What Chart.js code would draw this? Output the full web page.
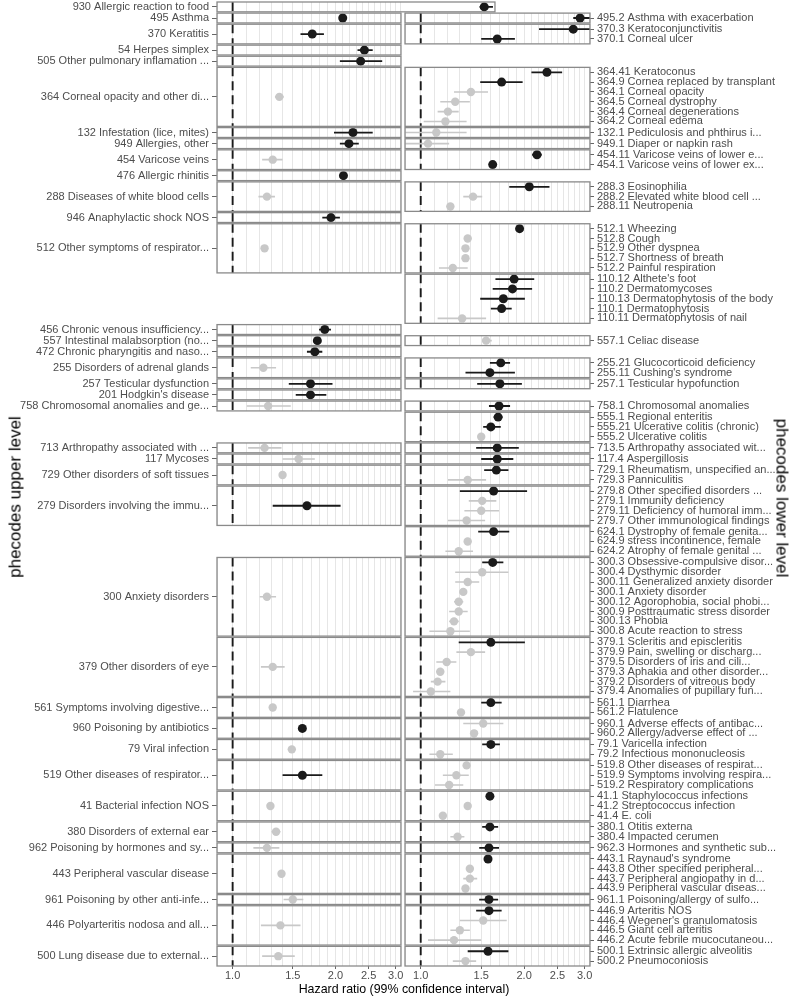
<!DOCTYPE html>
<html>
<head>
<meta charset="utf-8">
<script src="https://cdn.jsdelivr.net/npm/chart.js@4.4.1/dist/chart.umd.min.js"></script>
<style>
    html, body { margin: 0; padding: 0; background: #fff; }
    #wrap { position: relative; width: 797px; height: 996px; font-family: "Liberation Sans", Arial, sans-serif; }
    #forest { position: absolute; left: 0; top: 0; }
    .ttl { position: absolute; color: #000; white-space: nowrap; line-height: 1; }
    #ttlUpper { left: 15px; top: 497px; font-size: 17px; transform: translate(-50%, -50%) rotate(-90deg); }
    #ttlLower { left: 782px; top: 498px; font-size: 17px; transform: translate(-50%, -50%) rotate(90deg); }
    #ttlX { left: 404px; top: 989px; font-size: 12.4px; transform: translate(-50%, -50%); }
</style>
</head>
<body>
<div id="wrap">
    <canvas id="forest" width="797" height="996"></canvas>
    <div class="ttl" id="ttlUpper">phecodes upper level</div>
    <div class="ttl" id="ttlLower">phecodes lower level</div>
    <div class="ttl" id="ttlX">Hazard ratio (99% confidence interval)</div>
</div>
<script>
// upper level phecodes (one facet row each, null = no upper-level estimate)
const upperCodes = ["930", "495", "370", "54", "505", "364", "132", "949", "454", "476", "288", "946", "512", "110",
    "456", "557", "472", "255", "257", "201", "758", "555", "713", "117", "729", "279", "624", "300", "379", "561",
    "960", "79", "519", "41", "380", "962", "443", "961", "446", "500"];
const upperLabels = ["930 Allergic reaction to food", "495 Asthma", "370 Keratitis", "54 Herpes simplex",
    "505 Other pulmonary inflamation ...", "364 Corneal opacity and other di...", "132 Infestation (lice, mites)",
    "949 Allergies, other", "454 Varicose veins", "476 Allergic rhinitis", "288 Diseases of white blood cells",
    "946 Anaphylactic shock NOS", "512 Other symptoms of respirator...", null, "456 Chronic venous insufficiency...",
    "557 Intestinal malabsorption (no...", "472 Chronic pharyngitis and naso...", "255 Disorders of adrenal glands",
    "257 Testicular dysfunction", "201 Hodgkin's disease", "758 Chromosomal anomalies and ge...", null,
    "713 Arthropathy associated with ...", "117 Mycoses", "729 Other disorders of soft tissues",
    "279 Disorders involving the immu...", null, "300 Anxiety disorders", "379 Other disorders of eye",
    "561 Symptoms involving digestive...", "960 Poisoning by antibiotics", "79 Viral infection",
    "519 Other diseases of respirator...", "41 Bacterial infection NOS", "380 Disorders of external ear",
    "962 Poisoning by hormones and sy...", "443 Peripheral vascular disease", "961 Poisoning by other anti-infe...",
    "446 Polyarteritis nodosa and all...", "500 Lung disease due to external..."];
const upperHR = [5.45, 2.10, 1.71, 2.43, 2.37, 1.37, 2.25, 2.19, 1.31, 2.11, 1.26, 1.94, 1.24, null, 1.86, 1.77, 1.74,
    1.23, 1.69, 1.69, 1.27, null, 1.24, 1.56, 1.40, 1.65, null, 1.26, 1.31, 1.31, 1.60, 1.49, 1.60, 1.29, 1.34, 1.26,
    1.39, 1.50, 1.38, 1.36];
const upperLo = [5.28, 2.06, 1.58, 2.32, 2.06, 1.33, 1.98, 2.06, 1.22, 2.08, 1.19, 1.83, 1.22, null, 1.79, 1.73, 1.65,
    1.13, 1.46, 1.53, 1.10, null, 1.11, 1.40, 1.37, 1.31, null, 1.20, 1.21, 1.28, 1.57, 1.46, 1.40, 1.26, 1.30, 1.15,
    1.36, 1.41, 1.21, 1.22];
const upperHi = [5.78, 2.14, 1.85, 2.57, 2.74, 1.41, 2.57, 2.34, 1.40, 2.14, 1.33, 2.06, 1.26, null, 1.94, 1.81, 1.83,
    1.34, 1.96, 1.88, 1.48, null, 1.39, 1.74, 1.43, 2.07, null, 1.34, 1.42, 1.34, 1.63, 1.52, 1.83, 1.32, 1.38, 1.37,
    1.42, 1.61, 1.58, 1.52];
const upperSig = [1, 1, 1, 1, 1, 0, 1, 1, 0, 1, 0, 1, 0, null, 1, 1, 1, 0, 1, 1, 0, null, 0, 0, 0, 1, null, 0, 0, 0,
    1, 0, 1, 0, 0, 0, 0, 0, 0, 0];

// lower level phecodes
const lowerLabels = ["495.2 Asthma with exacerbation",
    "370.3 Keratoconjunctivitis", "370.1 Corneal ulcer",
    "364.41 Keratoconus", "364.9 Cornea replaced by transplant", "364.1 Corneal opacity", "364.5 Corneal dystrophy",
    "364.4 Corneal degenerations", "364.2 Corneal edema",
    "132.1 Pediculosis and phthirus i...",
    "949.1 Diaper or napkin rash",
    "454.11 Varicose veins of lower e...", "454.1 Varicose veins of lower ex...",
    "288.3 Eosinophilia", "288.2 Elevated white blood cell ...", "288.11 Neutropenia",
    "512.1 Wheezing", "512.8 Cough", "512.9 Other dyspnea", "512.7 Shortness of breath", "512.2 Painful respiration",
    "110.12 Althete's foot", "110.2 Dermatomycoses", "110.13 Dermatophytosis of the body", "110.1 Dermatophytosis",
    "110.11 Dermatophytosis of nail",
    "557.1 Celiac disease",
    "255.21 Glucocorticoid deficiency", "255.11 Cushing's syndrome",
    "257.1 Testicular hypofunction",
    "758.1 Chromosomal anomalies",
    "555.1 Regional enteritis", "555.21 Ulcerative colitis (chronic)", "555.2 Ulcerative colitis",
    "713.5 Arthropathy associated wit...",
    "117.4 Aspergillosis",
    "729.1 Rheumatism, unspecified an...", "729.3 Panniculitis",
    "279.8 Other specified disorders ...", "279.1 Immunity deficiency", "279.11 Deficiency of humoral imm...",
    "279.7 Other immunological findings",
    "624.1 Dystrophy of female genita...", "624.9 stress incontinence, female", "624.2 Atrophy of female genital ...",
    "300.3 Obsessive-compulsive disor...", "300.4 Dysthymic disorder", "300.11 Generalized anxiety disorder",
    "300.1 Anxiety disorder", "300.12 Agorophobia, social phobi...", "300.9 Posttraumatic stress disorder",
    "300.13 Phobia", "300.8 Acute reaction to stress",
    "379.1 Scleritis and episcleritis", "379.9 Pain, swelling or discharg...", "379.5 Disorders of iris and cili...",
    "379.3 Aphakia and other disorder...", "379.2 Disorders of vitreous body", "379.4 Anomalies of pupillary fun...",
    "561.1 Diarrhea", "561.2 Flatulence",
    "960.1 Adverse effects of antibac...", "960.2 Allergy/adverse effect of ...",
    "79.1 Varicella infection", "79.2 Infectious mononucleosis",
    "519.8 Other diseases of respirat...", "519.9 Symptoms involving respira...", "519.2 Respiratory complications",
    "41.1 Staphylococcus infections", "41.2 Streptococcus infection", "41.4 E. coli",
    "380.1 Otitis externa", "380.4 Impacted cerumen",
    "962.3 Hormones and synthetic sub...",
    "443.1 Raynaud's syndrome", "443.8 Other specified peripheral...", "443.7 Peripheral angiopathy in d...",
    "443.9 Peripheral vascular diseas...",
    "961.1 Poisoning/allergy of sulfo...",
    "446.9 Arteritis NOS", "446.4 Wegener's granulomatosis", "446.5 Giant cell arteritis",
    "446.2 Acute febrile mucocutaneou...",
    "500.1 Extrinsic allergic alveolitis", "500.2 Pneumoconiosis"];
const lowerHR = [2.91, 2.78, 1.67, 2.33, 1.72, 1.40, 1.26, 1.20, 1.18, 1.11, 1.05, 2.18, 1.62, 2.07, 1.42, 1.22,
    1.94, 1.37, 1.35, 1.35, 1.24, 1.87, 1.85, 1.74, 1.72, 1.32, 1.55, 1.71, 1.59, 1.70, 1.69, 1.68, 1.60, 1.50,
    1.67, 1.67, 1.66, 1.37, 1.63, 1.51, 1.50, 1.36, 1.63, 1.37, 1.29, 1.62, 1.51, 1.37, 1.33, 1.29, 1.29, 1.25, 1.22,
    1.60, 1.40, 1.19, 1.14, 1.12, 1.07, 1.60, 1.31, 1.52, 1.43, 1.60, 1.14, 1.36, 1.27, 1.21, 1.59, 1.37, 1.16,
    1.59, 1.28, 1.58, 1.57, 1.39, 1.39, 1.35, 1.58, 1.58, 1.52, 1.30, 1.25, 1.57, 1.35];
const lowerLo = [2.78, 2.21, 1.50, 2.10, 1.49, 1.25, 1.14, 1.12, 1.02, 0.90, 0.90, 2.11, 1.58, 1.81, 1.33, 1.19,
    1.90, 1.34, 1.32, 1.32, 1.13, 1.65, 1.62, 1.49, 1.60, 1.12, 1.51, 1.59, 1.35, 1.46, 1.58, 1.63, 1.52, 1.47,
    1.45, 1.50, 1.53, 1.20, 1.30, 1.38, 1.34, 1.20, 1.47, 1.34, 1.18, 1.51, 1.26, 1.26, 1.30, 1.25, 1.21, 1.21, 1.06,
    1.29, 1.27, 1.11, 1.11, 1.07, 0.95, 1.50, 1.28, 1.33, 1.40, 1.51, 1.06, 1.33, 1.16, 1.10, 1.56, 1.34, 1.13,
    1.51, 1.22, 1.48, 1.53, 1.36, 1.33, 1.32, 1.48, 1.45, 1.30, 1.22, 1.05, 1.37, 1.24];
const lowerHi = [3.11, 3.11, 1.88, 2.58, 1.98, 1.57, 1.39, 1.29, 1.36, 1.36, 1.21, 2.25, 1.66, 2.37, 1.51, 1.25,
    1.98, 1.40, 1.38, 1.38, 1.37, 2.14, 2.11, 2.01, 1.84, 1.55, 1.61, 1.82, 1.88, 1.97, 1.82, 1.73, 1.71, 1.53,
    1.93, 1.86, 1.80, 1.55, 2.04, 1.66, 1.69, 1.54, 1.81, 1.40, 1.42, 1.74, 1.80, 1.48, 1.36, 1.33, 1.37, 1.29, 1.39,
    2.01, 1.54, 1.27, 1.17, 1.18, 1.22, 1.72, 1.34, 1.74, 1.46, 1.70, 1.24, 1.39, 1.38, 1.33, 1.62, 1.40, 1.19,
    1.68, 1.34, 1.69, 1.61, 1.42, 1.46, 1.38, 1.68, 1.72, 1.78, 1.39, 1.50, 1.80, 1.45];
const lowerSig = [1, 1, 1, 1, 1, 0, 0, 0, 0, 0, 0, 1, 1, 1, 0, 0, 1, 0, 0, 0, 0, 1, 1, 1, 1, 0, 0, 1, 1, 1, 1, 1, 1, 0,
    1, 1, 1, 0, 1, 0, 0, 0, 1, 0, 0, 1, 0, 0, 0, 0, 0, 0, 0, 1, 0, 0, 0, 0, 0, 1, 0, 0, 0, 1, 0, 0, 0, 0, 1, 0, 0,
    1, 0, 1, 1, 0, 0, 0, 1, 1, 0, 0, 0, 1, 0];

// hazard ratio axis
const xGrid = [0.9, 1.0, 1.1, 1.2, 1.3, 1.4, 1.5, 1.6, 1.7, 1.8, 1.9, 2.0, 2.1, 2.2, 2.3, 2.4, 2.5, 2.6, 2.7, 2.8,
    2.9, 3.0, 3.1];
const xTickValues = [1.0, 1.5, 2.0, 2.5, 3.0];
const xTickLabels = ["1.0", "1.5", "2.0", "2.5", "3.0"];

const BLACK = "#1a1a1a";
const GREY = "#c8c8c8";
const GAP = 0.13;

// facet rows: each upper code gets as many rows as it has lower codes (at least one)
const codeOf = label => label.split(" ")[0].split(".")[0];
const groupRows = upperCodes.map(c => lowerLabels.filter(l => codeOf(l) === c).length);
const groupSize = groupRows.map(n => Math.max(n, 1));
const groupStart = [];
let cursor = 0;
groupSize.forEach(n => { groupStart.push(cursor); cursor += n + GAP; });
const yMax = cursor - GAP;

const upperY = upperCodes.map((c, g) => groupStart[g] + groupSize[g] / 2);
const used = {};
const lowerY = lowerLabels.map(l => {
    const g = upperCodes.indexOf(codeOf(l));
    used[g] = used[g] || 0;
    return groupStart[g] + used[g]++ + 0.5;
});

const upperTicks = upperY.filter((v, g) => upperLabels[g] != null);
const upperTickLabels = upperLabels.filter(l => l != null);

function points(hr, ys, sig, want) {
    const out = [];
    hr.forEach((v, i) => { if (v != null && sig[i] === want) out.push({ x: v, y: ys[i] }); });
    return out;
}

function whiskers(lo, hi, ys, sig, want) {
    const out = [];
    lo.forEach((v, i) => {
        if (v == null || sig[i] !== want) return;
        out.push({ x: v, y: ys[i] }, { x: hi[i], y: ys[i] }, { x: null, y: null });
    });
    return out;
}

function refLine(has) {
    const out = [];
    upperCodes.forEach((c, g) => {
        if (!has(g)) return;
        out.push({ x: 1, y: groupStart[g] }, { x: 1, y: groupStart[g] + groupSize[g] }, { x: null, y: null });
    });
    return out;
}

const hasUpper = g => upperHR[g] != null;
const hasLower = g => groupRows[g] > 0;

// white gaps between facets, empty facets, then the panel borders
const facetPanels = {
    id: "facetPanels",
    beforeDatasetsDraw(chart) {
        const { ctx, scales: { xL, xR, y } } = chart;
        ctx.save();
        ctx.fillStyle = "#fff";
        upperCodes.forEach((c, g) => {
            const y0 = y.getPixelForValue(groupStart[g]);
            const y1 = y.getPixelForValue(groupStart[g] + groupSize[g]);
            if (g < upperCodes.length - 1) {
                const y2 = y.getPixelForValue(groupStart[g + 1]);
                ctx.fillRect(xL.left - 1, y1, xR.right - xL.left + 2, y2 - y1);
            }
            if (!hasUpper(g)) ctx.fillRect(xL.left - 1, y0 - 1, xL.width + 2, y1 - y0 + 2);
            if (!hasLower(g)) ctx.fillRect(xR.left - 1, y0 - 1, xR.width + 2, y1 - y0 + 2);
        });
        ctx.restore();
    },
    afterDatasetsDraw(chart) {
        const { ctx, scales: { xL, xR, y } } = chart;
        ctx.save();
        ctx.strokeStyle = "#8a8a8a";
        ctx.lineWidth = 1.3;
        upperCodes.forEach((c, g) => {
            const y0 = y.getPixelForValue(groupStart[g]);
            const y1 = y.getPixelForValue(groupStart[g] + groupSize[g]);
            if (hasUpper(g)) {
                const right = Math.max(xL.right, xL.getPixelForValue(upperHi[g]) + 2);
                ctx.strokeRect(xL.left, y0, right - xL.left, y1 - y0);
            }
            if (hasLower(g)) ctx.strokeRect(xR.left, y0, xR.width, y1 - y0);
        });
        ctx.restore();
    },
};

Chart.defaults.font.family = '"Liberation Sans", Arial, sans-serif';
Chart.defaults.font.size = 11;
Chart.defaults.color = "#4d4d4d";

// no extra room for half tick labels at the ends
const noPad = s => { s.paddingTop = 0; s.paddingBottom = 0; s.paddingLeft = 0; s.paddingRight = 0; };

function hrAxis(weight) {
    return {
        type: "logarithmic",
        position: "bottom",
        stack: "hr",
        stackWeight: weight,
        min: 0.9,
        max: 3.11,
        bounds: "data",
        afterBuildTicks: s => { s.ticks = xGrid.map(v => ({ value: v })); },
        afterFit: s => { s.height = 30; noPad(s); },
        grid: {
            color: "#e6e6e6",
            lineWidth: 1,
            tickLength: 3,
            tickColor: c => (c.tick && xTickValues.some(t => Math.abs(t - c.tick.value) < 1e-6)) ? "#666" : "rgba(0,0,0,0)",
        },
        border: { display: false },
        ticks: {
            autoSkip: false,
            maxRotation: 0,
            padding: 0,
            callback: v => {
                const i = xTickValues.findIndex(t => Math.abs(t - v) < 1e-6);
                return i >= 0 ? xTickLabels[i] : "";
            },
        },
    };
}

const common = { yAxisID: "y", clip: false, pointBorderWidth: 0 };
const datasets = [
    { data: points(upperHR, upperY, upperSig, 1), xAxisID: "xL", pointRadius: 4.5, pointBackgroundColor: BLACK, order: 0 },
    { data: points(upperHR, upperY, upperSig, 0), xAxisID: "xL", pointRadius: 4.2, pointBackgroundColor: GREY, order: 1 },
    { data: points(lowerHR, lowerY, lowerSig, 1), xAxisID: "xR", pointRadius: 4.5, pointBackgroundColor: BLACK, order: 0 },
    { data: points(lowerHR, lowerY, lowerSig, 0), xAxisID: "xR", pointRadius: 4.2, pointBackgroundColor: GREY, order: 1 },
    { data: whiskers(upperLo, upperHi, upperY, upperSig, 1), xAxisID: "xL", showLine: true, pointRadius: 0, borderColor: BLACK, borderWidth: 1.8, order: 2 },
    { data: whiskers(upperLo, upperHi, upperY, upperSig, 0), xAxisID: "xL", showLine: true, pointRadius: 0, borderColor: GREY, borderWidth: 1.6, order: 3 },
    { data: whiskers(lowerLo, lowerHi, lowerY, lowerSig, 1), xAxisID: "xR", showLine: true, pointRadius: 0, borderColor: BLACK, borderWidth: 1.8, order: 2 },
    { data: whiskers(lowerLo, lowerHi, lowerY, lowerSig, 0), xAxisID: "xR", showLine: true, pointRadius: 0, borderColor: GREY, borderWidth: 1.6, order: 3 },
    { data: refLine(hasUpper), xAxisID: "xL", showLine: true, pointRadius: 0, borderColor: BLACK, borderWidth: 1.9, borderDash: [9, 5], order: 4 },
    { data: refLine(hasLower), xAxisID: "xR", showLine: true, pointRadius: 0, borderColor: BLACK, borderWidth: 1.9, borderDash: [9, 5], order: 4 },
].map(d => Object.assign({}, common, d));

new Chart(document.getElementById("forest"), {
    type: "scatter",
    data: { datasets },
    options: {
        responsive: false,
        animation: false,
        devicePixelRatio: 1,
        events: [],
        layout: { padding: { top: 2, left: 0, right: 0, bottom: 0 }, autoPadding: false },
        plugins: { legend: { display: false }, tooltip: { enabled: false } },
        scales: {
            xL: hrAxis(184),
            xGap: {
                type: "linear", position: "bottom", stack: "hr", stackWeight: 4, min: 0, max: 1,
                afterFit: s => { s.height = 30; noPad(s); },
                grid: { display: false }, border: { display: false }, ticks: { display: false },
            },
            xR: hrAxis(185),
            y: {
                type: "linear",
                position: "left",
                reverse: true,
                min: 0,
                max: yMax,
                bounds: "data",
                afterBuildTicks: s => { s.ticks = upperTicks.map(v => ({ value: v })); },
                afterFit: s => { s.width = 217; noPad(s); },
                grid: { drawOnChartArea: false, tickLength: 5, tickColor: "#666", tickWidth: 1 },
                border: { display: false },
                ticks: { autoSkip: false, padding: 3, callback: (v, i) => upperTickLabels[i] },
            },
            y2: {
                type: "linear",
                position: "right",
                reverse: true,
                min: 0,
                max: yMax,
                bounds: "data",
                afterBuildTicks: s => { s.ticks = lowerY.map(v => ({ value: v })); },
                afterFit: s => { s.width = 207; noPad(s); },
                grid: { drawOnChartArea: false, tickLength: 4, tickColor: "#666", tickWidth: 1 },
                border: { display: false },
                ticks: { autoSkip: false, padding: 3, callback: (v, i) => lowerLabels[i] },
            },
        },
    },
    plugins: [facetPanels],
});
</script>
</body>
</html>
